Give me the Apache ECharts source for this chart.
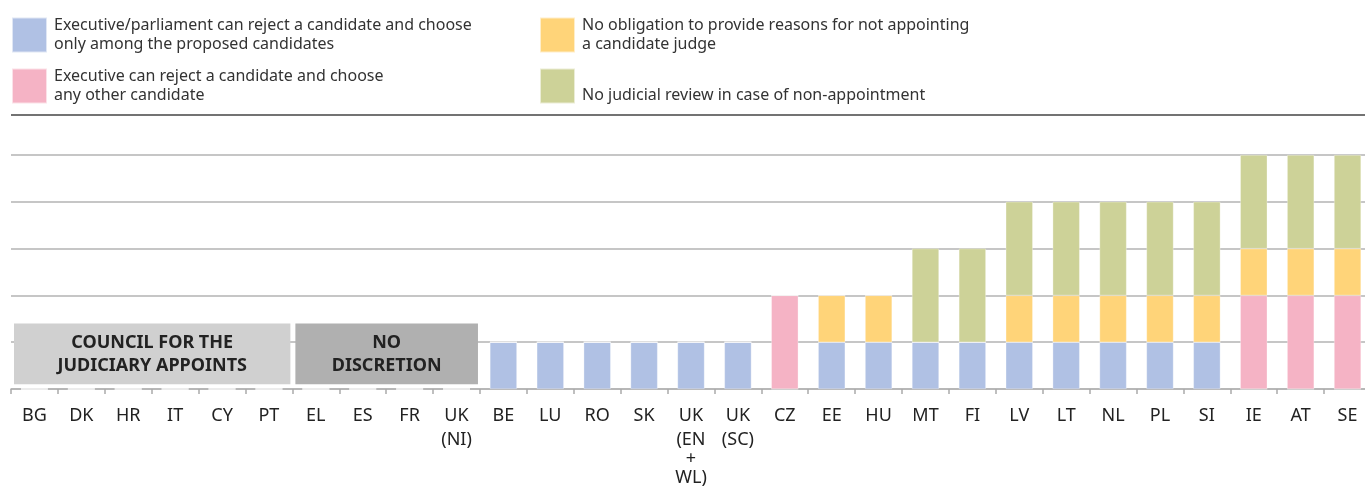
<!DOCTYPE html>
<html>
<head>
<meta charset="utf-8">
<script src="https://cdn.jsdelivr.net/npm/echarts@6/dist/echarts.min.js"></script>
<style>
  html, body { margin: 0; padding: 0; background: #fff; }
  #chart { width: 1365px; height: 486px; }
</style>
</head>
<body>
<div id="chart"></div>
<script>
// Member states / jurisdictions along the x axis
const countries = ['BG', 'DK', 'HR', 'IT', 'CY', 'PT', 'EL', 'ES', 'FR', 'UK\n(NI)',
  'BE', 'LU', 'RO', 'SK', 'UK\n(EN\n+\nWL)', 'UK\n(SC)', 'CZ', 'EE', 'HU', 'MT', 'FI',
  'LV', 'LT', 'NL', 'PL', 'SI', 'IE', 'AT', 'SE'];

// Series names
const nameChooseProposed = 'Executive/parliament can reject a candidate and choose\nonly among the proposed candidates';
const nameChooseAny = 'Executive can reject a candidate and choose\nany other candidate';
const nameNoReasons = 'No obligation to provide reasons for not appointing\na candidate judge';
const nameNoReview = 'No judicial review in case of non-appointment';

// Stacked values per country (one unit per feature)
const chooseProposed = [0,0,0,0,0,0,0,0,0,0, 1,1,1,1,1,1, 0, 1,1,1,1, 1,1,1,1,1, 0,0,0];
const chooseAny      = [0,0,0,0,0,0,0,0,0,0, 0,0,0,0,0,0, 2, 0,0,0,0, 0,0,0,0,0, 2,2,2];
const noReasons      = [0,0,0,0,0,0,0,0,0,0, 0,0,0,0,0,0, 0, 1,1,0,0, 1,1,1,1,1, 1,1,1];
const noReview       = [0,0,0,0,0,0,0,0,0,0, 0,0,0,0,0,0, 0, 0,0,2,2, 2,2,2,2,2, 2,2,2];

// Countries grouped under a labelled box: [first index, last index]
const groupSpans = [[0, 5], [6, 9]];
const groupLabels = ['COUNCIL FOR THE\nJUDICIARY APPOINTS', 'NO\nDISCRETION'];

const FONT = '"Noto Sans", "DejaVu Sans", sans-serif';
const colors = ['#b0c1e4', '#f5b3c5', '#ffd479', '#cdd298'];
const boxColors = ['#d0d0d0', '#b0b0b0'];
const BOX_LOW = 0.1, BOX_HIGH = 1.4;

const chart = echarts.init(document.getElementById('chart'), null, { renderer: 'canvas' });

function barSeries(name, data, color) {
  return {
    name: name,
    type: 'bar',
    stack: 'total',
    barWidth: 27,
    data: data,
    itemStyle: { color: color, borderColor: 'rgba(255,255,255,0.6)', borderWidth: 0.5 },
    emphasis: { disabled: true },
    silent: true
  };
}

const legendText = {
  fontFamily: FONT,
  fontSize: 16,
  color: '#333',
  lineHeight: 19,
  padding: [0, 0, 0, 2]
};

chart.setOption({
  animation: false,
  textStyle: { fontFamily: FONT },
  legend: [
    {
      left: 11, top: 16, padding: 0, orient: 'vertical', itemWidth: 35, itemHeight: 35, itemGap: 13,
      icon: 'rect', selectedMode: false, textStyle: legendText,
      data: [nameChooseProposed, nameChooseAny]
    },
    {
      left: 539, top: 16, padding: 0, orient: 'vertical', itemWidth: 35, itemHeight: 35, itemGap: 13,
      icon: 'rect', selectedMode: false, textStyle: legendText,
      formatter: function (n) { return n.indexOf('\n') < 0 ? '\n' + n : n; },
      data: [nameNoReasons, nameNoReview]
    }
  ],
  graphic: [
    { type: 'line', shape: { x1: 11, y1: 115, x2: 1365, y2: 115 }, style: { stroke: '#444', lineWidth: 1.5 } }
  ],
  grid: { left: 11, top: 155, width: 1360, height: 234, containLabel: false, outerBoundsMode: 'none' },
  xAxis: {
    type: 'category',
    data: countries,
    axisLine: { lineStyle: { color: '#b3b3b3', width: 1.5 } },
    axisTick: { show: true, length: 5, lineStyle: { color: '#aaa', width: 1.5 } },
    axisLabel: {
      interval: 0, color: '#222', fontSize: 18, lineHeight: 24, margin: 15, fontFamily: FONT,
      // the lone "+" joining two names sits on a tighter line
      formatter: function (v) {
        return v.split('\n').map(function (l) { return l === '+' ? '{p|+}' : l; }).join('\n');
      },
      rich: { p: { fontSize: 18, lineHeight: 14, color: '#222', fontFamily: FONT } }
    }
  },
  yAxis: {
    type: 'value', min: 0, max: 5, interval: 1,
    axisLabel: { show: false }, axisLine: { show: false }, axisTick: { show: false },
    splitLine: { lineStyle: { color: '#b3b3b3', width: 1.5 } }
  },
  series: [
    barSeries(nameChooseProposed, chooseProposed, colors[0]),
    barSeries(nameChooseAny, chooseAny, colors[1]),
    barSeries(nameNoReasons, noReasons, colors[2]),
    barSeries(nameNoReview, noReview, colors[3]),
    {
      type: 'custom',
      silent: true,
      encode: { x: [0, 1], y: [] },
      data: groupSpans,
      renderItem: function (params, api) {
        const s = api.value(0), e = api.value(1);
        const bw = api.size([1, 0])[0];
        const top = api.coord([s, BOX_HIGH]);
        const bottom = api.coord([e, BOX_LOW]);
        const x = top[0] - bw / 2 + 3;
        const w = bottom[0] + bw / 2 - 2 - x;
        return {
          type: 'rect',
          shape: { x: x, y: top[1], width: w, height: bottom[1] - top[1] },
          style: { fill: boxColors[params.dataIndex] },
          textContent: {
            style: {
              text: groupLabels[params.dataIndex],
              fontFamily: FONT, fontSize: 18, fontWeight: 'bold', lineHeight: 23,
              fill: '#222', align: 'center', verticalAlign: 'middle'
            }
          },
          textConfig: { position: 'inside' }
        };
      }
    }
  ]
});
</script>
</body>
</html>
